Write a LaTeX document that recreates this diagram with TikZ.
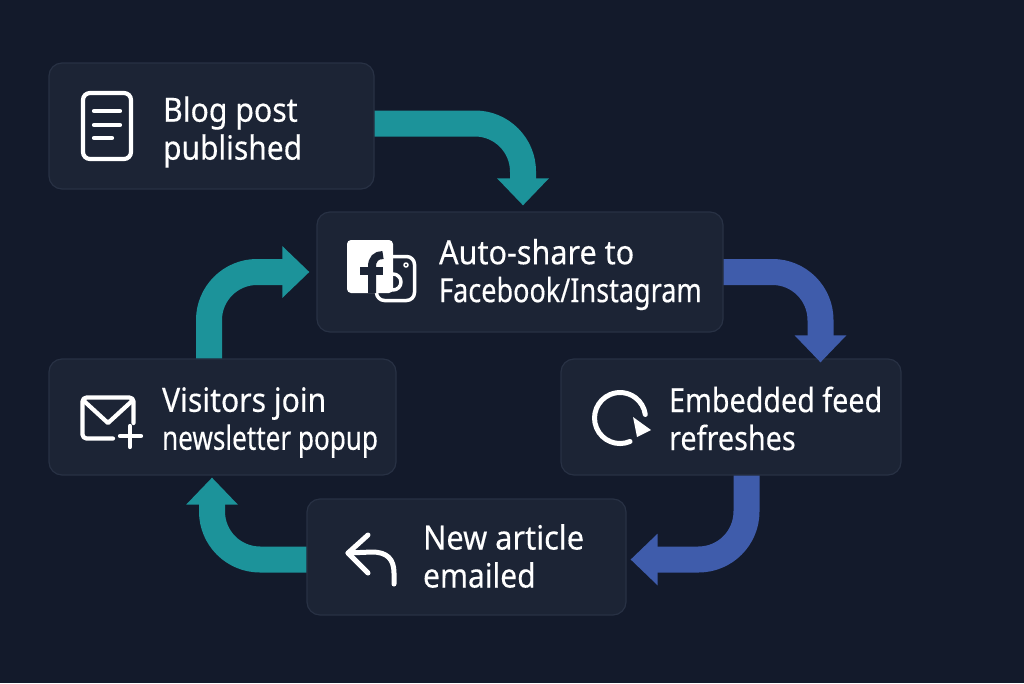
\documentclass[tikz,border=0pt]{standalone}
\usepackage{graphicx}
\usepackage{fontspec}
\setmainfont[FakeStretch=0.88,FakeBold=0.3]{Noto Sans}
\usetikzlibrary{positioning,arrows.meta}
\definecolor{pagebg}{HTML}{131A2B}
\definecolor{boxbg}{HTML}{1C2435}
\definecolor{boxline}{HTML}{283144}
\definecolor{tealflow}{HTML}{1C939A}
\definecolor{blueflow}{HTML}{3F5CAB}
\newcommand{\fitline}[2]{\scalebox{#1}[1]{#2}}
\tikzset{
  stepbox/.style={shape=rectangle,draw=boxline,fill=boxbg,line width=0.012cm,rounded corners=0.13cm},
  steplabel/.style={text=white,align=left,inner sep=0pt,font=\fontsize{9.5}{10.8}\selectfont},
  flow/.style={line width=0.26cm,rounded corners=0.48cm,-{Triangle[length=0.27cm,width=0.5cm]}},
  iconline/.style={draw=white,line width=0.042cm,line cap=round,line join=round}
}
\begin{document}
\begin{tikzpicture}
\useasboundingbox (0,0) rectangle (10.24,6.83);
\fill[pagebg] (0,0) rectangle (10.24,6.83);

\node(blog) at (2.115,5.57)[stepbox,minimum width=3.25cm,minimum height=1.26cm]{};
\node(share) at (5.20,4.11)[stepbox,minimum width=4.06cm,minimum height=1.20cm]{};
\node(feed) at (7.31,2.66)[stepbox,minimum width=3.40cm,minimum height=1.16cm]{};
\node(article) at (4.665,1.26)[stepbox,minimum width=3.19cm,minimum height=1.16cm]{};
\node(visitors) at (2.225,2.66)[stepbox,minimum width=3.47cm,minimum height=1.16cm]{};

\node(bloglabel) [steplabel,right=1.14cm of blog.west,yshift=-0.06cm]{\fitline{1.03}{Blog post}\\\fitline{1.02}{published}};
\node(sharelabel) [steplabel,right=1.22cm of share.west,yshift=-0.025cm]{\fitline{1.04}{Auto-share to}\\\fitline{.92}{Facebook/Instagram}};
\node(feedlabel) [steplabel,right=1.08cm of feed.west,yshift=-0.015cm]{\fitline{.977}{Embedded feed}\\\fitline{.98}{refreshes}};
\node(articlelabel) [steplabel,right=1.16cm of article.west,yshift=0.01cm]{\fitline{1.045}{New article}\\\fitline{1.02}{emailed}};
\node(visitorslabel) [steplabel,right=1.13cm of visitors.west,yshift=-0.055cm]{\fitline{1.025}{Visitors join}\\\fitline{.888}{newsletter popup}};

\path
  ([yshift=0.025cm]blog.east)     edge[flow,draw=tealflow,to path={-| (\tikztotarget)}] ([xshift=0.03cm,yshift=0.06cm]share.north)
  (share.east)                    edge[flow,draw=blueflow,to path={-| (\tikztotarget)}] ([xshift=0.895cm,yshift=-0.04cm]feed.north)
  ([xshift=0.155cm]feed.south)    edge[flow,draw=blueflow,to path={|- (\tikztotarget)}] ([xshift=0.04cm,yshift=-0.025cm]article.east)
  ([yshift=-0.025cm]article.west) edge[flow,draw=tealflow,to path={-| (\tikztotarget)}] ([xshift=-0.105cm,yshift=-0.02cm]visitors.south)
  ([xshift=-0.135cm]visitors.north) edge[flow,draw=tealflow,to path={|- (\tikztotarget)}] ([xshift=-0.07cm]share.west);

% icons
\draw[iconline,rounded corners=0.07cm] (0.83,5.90) rectangle (1.31,5.24);
\draw[iconline] (0.94,5.72) -- (1.20,5.72) (0.94,5.58) -- (1.20,5.58) (0.94,5.45) -- (1.12,5.45);

\draw[iconline,line width=0.035cm,rounded corners=0.08cm] (3.765,4.265) rectangle (4.145,3.825);
\draw[iconline,line width=0.035cm] (3.93,4.01) circle (0.08);
\draw[iconline,line width=0.015cm] (4.06,4.18) circle (0.02);
\fill[white,rounded corners=0.04cm] (3.47,4.43) rectangle (3.93,3.90);
\draw[boxbg,line width=0.08cm] (3.72,3.90) -- (3.72,4.16) .. controls (3.72,4.24) and (3.76,4.28) .. (3.83,4.28);
\draw[boxbg,line width=0.08cm] (3.60,4.12) -- (3.83,4.12);

\draw[iconline,line width=0.05cm] (6.30,2.415) arc[start angle=-67,end angle=-352,radius=0.255];
\fill[white] (6.33,2.66) -- (6.51,2.53) -- (6.37,2.46) -- cycle;

\draw[iconline,rounded corners=0.04cm] (1.13,2.445) -| (0.825,2.855) -| (1.335,2.60);
\draw[iconline] (0.84,2.82) -- (1.08,2.60) -- (1.32,2.82);
\draw[iconline] (1.20,2.47) -- (1.41,2.47) (1.30,2.57) -- (1.30,2.36);

\draw[iconline,line width=0.05cm] (3.68,1.48) -- (3.48,1.30) -- (3.68,1.10);
\draw[iconline,line width=0.05cm] (3.48,1.30) -- (3.72,1.31) .. controls (3.87,1.31) and (3.94,1.24) .. (3.94,1.10) -- (3.94,0.99);
\end{tikzpicture}
\end{document}
